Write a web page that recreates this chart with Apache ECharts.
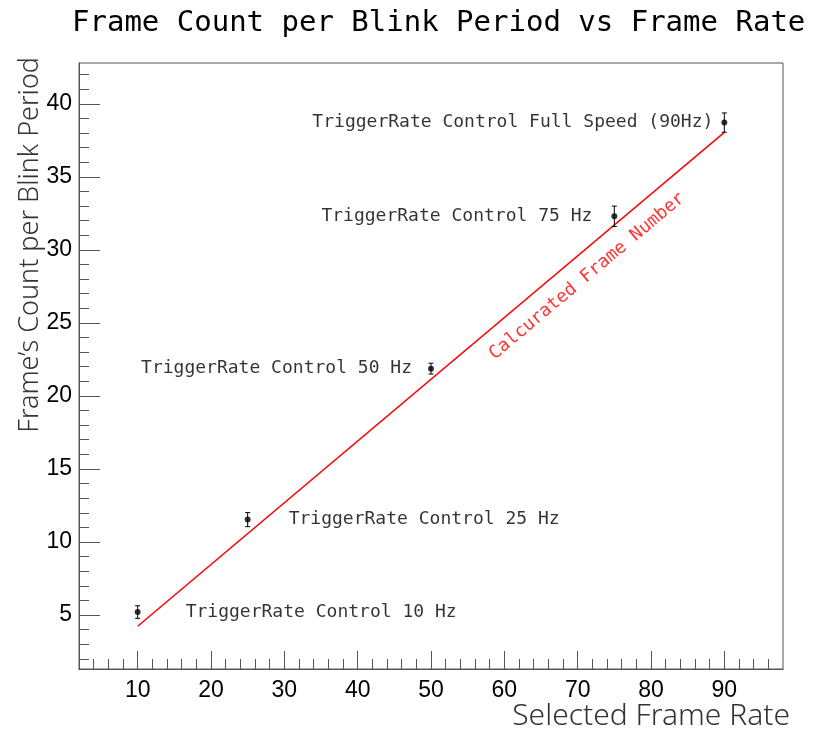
<!DOCTYPE html>
<html>
<head>
<meta charset="utf-8">
<script src="https://cdn.jsdelivr.net/npm/echarts@6/dist/echarts.min.js"></script>
<style>
  html, body { margin: 0; padding: 0; background: #fff; }
  #container { width: 814px; height: 730px; }
</style>
</head>
<body>
<div id="container"></div>
<script>
// measured frame counts
var frameRates = [10, 25, 50, 75, 90];
var frameCounts = [5.2, 11.53, 21.87, 32.3, 38.72];
var frameErrors = [0.43, 0.48, 0.37, 0.7, 0.66];
var pointNames = [
    'TriggerRate Control 10 Hz',
    'TriggerRate Control 25 Hz',
    'TriggerRate Control 50 Hz',
    'TriggerRate Control 75 Hz',
    'TriggerRate Control Full Speed (90Hz)'
];
// calculated line
var calcRates = [10, 90];
var calcCounts = [4.23, 38.05];
var calcLabel = 'Calcurated Frame Number';
var calcLabelAt = [71.3, 28.2];

var xMajor = [10, 20, 30, 40, 50, 60, 70, 80, 90];
var xMinor = [4, 6, 8, 12, 14, 16, 18, 22, 24, 26, 28, 32, 34, 36, 38, 42, 44, 46, 48,
    52, 54, 56, 58, 62, 64, 66, 68, 72, 74, 76, 78, 82, 84, 86, 88, 92, 94, 96];
var yMajor = [5, 10, 15, 20, 25, 30, 35, 40];
var yMinor = [2, 3, 4, 6, 7, 8, 9, 11, 12, 13, 14, 16, 17, 18, 19, 21, 22, 23, 24,
    26, 27, 28, 29, 31, 32, 33, 34, 36, 37, 38, 39, 41, 42];

var mono = '"DejaVu Sans Mono", monospace';
var axisColor = '#555';

var dom = document.getElementById('container');
var myChart = echarts.init(dom);

function axisPair(kind, major, minor, min, max) {
    var base = {
        type: 'value',
        min: min,
        max: max,
        position: kind === 'x' ? 'bottom' : 'left',
        splitLine: { show: false },
        axisLine: { show: true, lineStyle: { color: axisColor, width: 1 } }
    };
    var a = Object.assign({}, base, {
        axisTick: { show: true, inside: true, length: kind === 'x' ? 18 : 21, customValues: major,
            lineStyle: { color: axisColor } },
        axisLabel: { show: true, customValues: major, color: '#000', fontSize: 23,
            fontFamily: '"Liberation Sans", Arial, sans-serif', margin: kind === 'x' ? 10 : 7 }
    });
    var b = Object.assign({}, base, {
        axisTick: { show: true, inside: true, length: 10, customValues: minor,
            lineStyle: { color: axisColor } },
        axisLabel: { show: false }
    });
    return [a, b];
}

var xAxes = axisPair('x', xMajor, xMinor, 2, 98);
var yAxes = axisPair('y', yMajor, yMinor, 1.3, 42.8);

var labelSide = ['right', 'right', 'left', 'left', 'left'];
var labelGap = [45, 38, 16, 19, 8];

var pointData = frameRates.map(function (r, i) {
    return {
        value: [r, frameCounts[i]],
        label: {
            show: true,
            position: labelSide[i],
            distance: labelGap[i],
            formatter: pointNames[i],
            color: '#000',
            fontSize: 18,
            fontFamily: mono,
            padding: [6, 0, 0, 0]
        }
    };
});

var option = {
    animation: false,
    grid: {
        left: 79, right: 31, top: 63, bottom: 61,
        show: true, borderColor: axisColor, borderWidth: 1
    },
    xAxis: xAxes,
    yAxis: yAxes,
    graphic: [
        {
            type: 'text', left: 72, top: 9,
            style: { text: 'Frame Count per Blink Period vs Frame Rate', fill: '#000',
                font: '29px ' + mono }
        },
        {
            type: 'text', x: 790, y: 716,
            style: { text: 'Selected Frame Rate', fill: '#333', align: 'right', verticalAlign: 'middle',
                font: '300 30px "Noto Sans", sans-serif' }
        },
        {
            type: 'text', x: 30, y: 57, rotation: Math.PI / 2,
            style: { text: 'Frame\u2019s Count per Blink Period', fill: '#333', align: 'right', verticalAlign: 'middle',
                font: '300 27px "Noto Sans", sans-serif' }
        }
    ],
    series: [
        {
            name: 'calc',
            type: 'line',
            data: calcRates.map(function (r, i) { return [r, calcCounts[i]]; }),
            showSymbol: false,
            lineStyle: { color: '#ff0000', width: 1.5 },
            z: 2
        },
        {
            name: 'calcLabel',
            type: 'scatter',
            data: [calcLabelAt],
            symbolSize: 0,
            label: {
                show: true,
                position: 'inside',
                rotate: 40,
                formatter: calcLabel,
                color: '#ff0000',
                fontSize: 18,
                fontFamily: mono
            },
            silent: true
        },
        {
            name: 'errors',
            type: 'custom',
            data: frameRates.map(function (r, i) {
                return [r, frameCounts[i] - frameErrors[i], frameCounts[i] + frameErrors[i]];
            }),
            renderItem: function (params, api) {
                var lo = api.coord([api.value(0), api.value(1)]);
                var hi = api.coord([api.value(0), api.value(2)]);
                var cap = 2.5;
                var st = { stroke: '#000', lineWidth: 1 };
                return {
                    type: 'group',
                    children: [
                        { type: 'line', shape: { x1: lo[0], y1: lo[1], x2: hi[0], y2: hi[1] }, style: st },
                        { type: 'line', shape: { x1: lo[0] - cap, y1: lo[1], x2: lo[0] + cap, y2: lo[1] }, style: st },
                        { type: 'line', shape: { x1: hi[0] - cap, y1: hi[1], x2: hi[0] + cap, y2: hi[1] }, style: st }
                    ]
                };
            },
            z: 3
        },
        {
            name: 'frames',
            type: 'scatter',
            data: pointData,
            symbol: 'circle',
            symbolSize: 6,
            itemStyle: { color: '#000' },
            labelLayout: { hideOverlap: false },
            z: 4
        }
    ]
};

myChart.setOption(option);
</script>
</body>
</html>
